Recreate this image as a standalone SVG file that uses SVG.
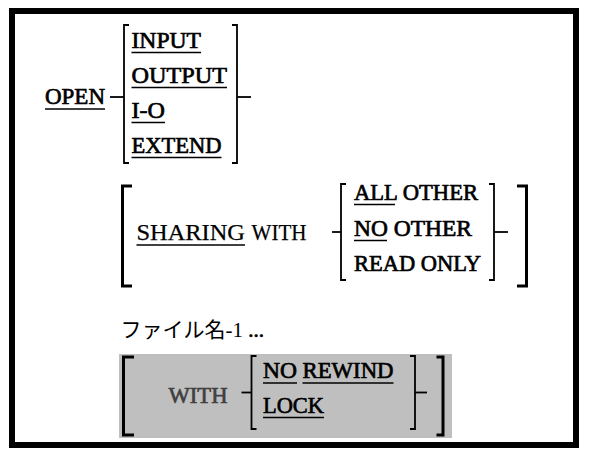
<svg xmlns="http://www.w3.org/2000/svg" width="589" height="460" viewBox="0 0 589 460">
<style>
text{font-family:"Liberation Serif","Times New Roman",serif;font-size:24px;fill:#000;font-weight:normal}
.jp{font-family:"Liberation Serif","Noto Sans CJK JP",serif;font-size:21px}
.b{stroke:#000;stroke-width:0.7}
.r{stroke:#000;stroke-width:0.25}
.ul{stroke:#000;stroke-width:1.3;fill:none}
.br{stroke:#000;stroke-width:1.8;fill:none}
.bb{stroke:#000;stroke-width:3;fill:none}
.tk{stroke:#000;stroke-width:1.8;fill:none}
.g{fill:#404040;stroke:#404040}
</style>
<rect x="12" y="11" width="564" height="434" fill="#fff" stroke="#000" stroke-width="6"/>
<g id="open-clause">
  <text class="b" x="45" y="104" textLength="60" lengthAdjust="spacingAndGlyphs">OPEN</text>
  <line class="ul" x1="45" y1="109" x2="105" y2="109"/>
  <path class="br" d="M129,25 H124 V163 H129"/>
  <path class="br" d="M232,25 H237 V163 H232"/>
  <text class="b" x="131.5" y="48" textLength="69.5" lengthAdjust="spacingAndGlyphs">INPUT</text>
  <line class="ul" x1="131.5" y1="52.5" x2="201" y2="52.5"/>
  <text class="b" x="131.5" y="83" textLength="95.5" lengthAdjust="spacingAndGlyphs">OUTPUT</text>
  <line class="ul" x1="131.5" y1="87.5" x2="227" y2="87.5"/>
  <text class="b" x="131.5" y="118" textLength="33.5" lengthAdjust="spacingAndGlyphs">I-O</text>
  <line class="ul" x1="131.5" y1="122.5" x2="165" y2="122.5"/>
  <text class="b" x="131.5" y="153" textLength="90" lengthAdjust="spacingAndGlyphs">EXTEND</text>
  <line class="ul" x1="131.5" y1="157.5" x2="221.5" y2="157.5"/>
</g>
<g id="sharing-clause">
  <path class="bb" d="M132,186 H122.5 V286 H132"/>
  <path class="bb" d="M517,186 H526.5 V286 H517"/>
  <text class="r" x="136.5" y="240" textLength="108.5" lengthAdjust="spacingAndGlyphs">SHARING</text>
  <line class="ul" x1="136.5" y1="245" x2="245" y2="245"/>
  <text class="r" x="251.5" y="240" textLength="55" lengthAdjust="spacingAndGlyphs">WITH</text>
  <path class="br" d="M346,184 H341 V280 H346"/>
  <path class="br" d="M489,184 H494 V280 H489"/>
  <text class="b" x="354" y="200" textLength="124" lengthAdjust="spacingAndGlyphs">ALL OTHER</text>
  <line class="ul" x1="354" y1="204.5" x2="395" y2="204.5"/>
  <text class="b" x="354" y="236" textLength="118" lengthAdjust="spacingAndGlyphs">NO OTHER</text>
  <line class="ul" x1="354" y1="240.5" x2="387" y2="240.5"/>
  <text class="b" x="354" y="271" textLength="127" lengthAdjust="spacingAndGlyphs">READ ONLY</text>
</g>
<g id="file-name">
  <text class="jp" x="120.5" y="337">ファイル名-1 <tspan class="b">...</tspan></text>
</g>
<g id="with-clause">
  <rect x="119" y="354" width="333" height="84" fill="#bfbfbf"/>
  <path class="bb" d="M134,357 H123.5 V435 H134"/>
  <path class="bb" d="M436.5,357 H443 V435 H436.5"/>
  <text class="b g" x="168.5" y="403" textLength="59" lengthAdjust="spacingAndGlyphs">WITH</text>
  <path class="br" d="M256.5,356 H251.5 V429 H256.5"/>
  <path class="br" d="M410,356 H415 V429 H410"/>
  <text class="b" x="263" y="378" textLength="34" lengthAdjust="spacingAndGlyphs">NO</text>
  <line class="ul" x1="263" y1="383" x2="297" y2="383"/>
  <text class="b" x="302.5" y="378" textLength="91" lengthAdjust="spacingAndGlyphs">REWIND</text>
  <line class="ul" x1="302.5" y1="383" x2="393.5" y2="383"/>
  <text class="b" x="263" y="413" textLength="61" lengthAdjust="spacingAndGlyphs">LOCK</text>
  <line class="ul" x1="263" y1="417.5" x2="324" y2="417.5"/>
</g>
<g id="connectors">
  <line class="tk" x1="110" y1="97" x2="124" y2="97"/>
  <line class="tk" x1="237" y1="97" x2="251" y2="97"/>
  <line class="tk" x1="332" y1="232" x2="341" y2="232"/>
  <line class="tk" x1="494" y1="232" x2="508" y2="232"/>
  <line class="tk" x1="241.5" y1="392.5" x2="251.5" y2="392.5"/>
  <line class="tk" x1="415" y1="392.5" x2="427" y2="392.5"/>
</g>
</svg>
